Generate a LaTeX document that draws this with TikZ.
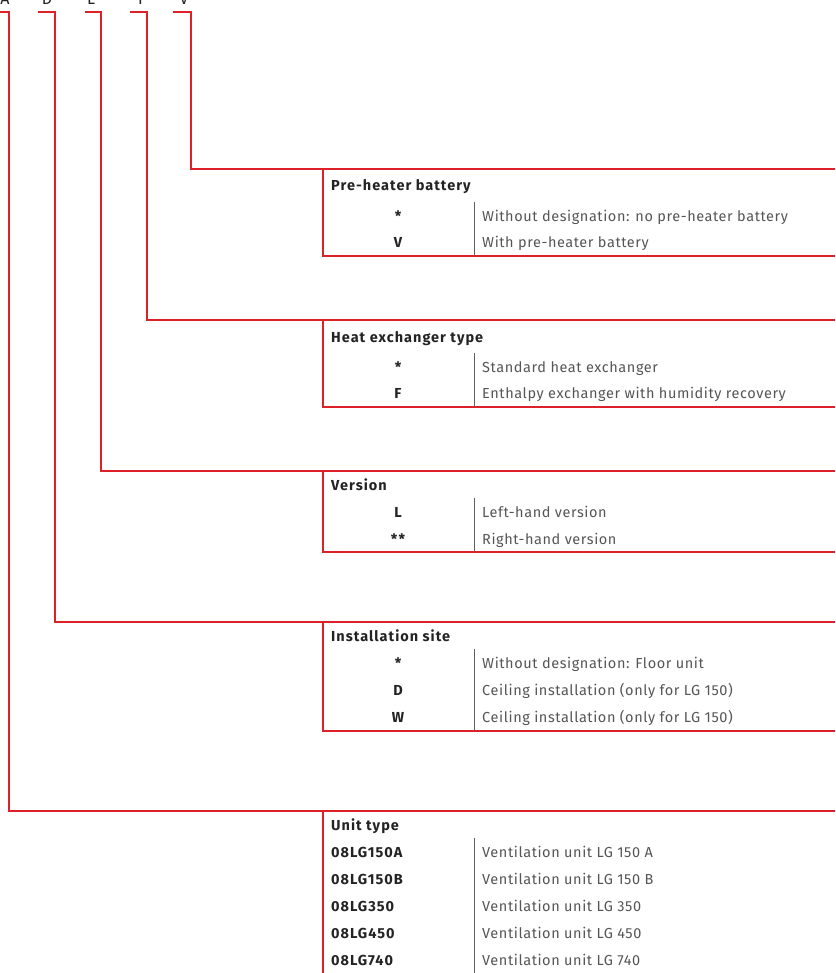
\documentclass[tikz,border=0pt]{standalone}
\usepackage{fontspec}
\setmainfont{Fira Sans}[LetterSpace=4,BoldFeatures={LetterSpace=7}]
\definecolor{lgred}{RGB}{222,32,40}
\definecolor{txtdark}{RGB}{35,35,35}
\definecolor{txtgray}{RGB}{85,85,85}
\definecolor{sepgray}{RGB}{95,95,95}
\begin{document}
\begin{tikzpicture}[x=1pt,y=-1pt,
  redline/.style={draw=lgred,line width=1.5pt},
  sepline/.style={draw=sepgray,line width=0.9pt},
  ttl/.style={anchor=base west,inner sep=0pt,font=\fontsize{14.5}{16}\selectfont\bfseries,text=txtdark},
  codec/.style={anchor=base,inner sep=0pt,font=\fontsize{14.5}{16}\selectfont\bfseries,text=txtdark},
  codel/.style={anchor=base west,inner sep=0pt,font=\fontsize{14.5}{16}\selectfont\bfseries,text=txtdark},
  desc/.style={anchor=base west,inner sep=0pt,font=\fontsize{14.5}{16}\selectfont,text=txtgray},
  letter/.style={anchor=base,inner sep=0pt,font=\fontsize{16}{18}\selectfont,text=txtdark}]
\path[use as bounding box] (0,0) rectangle (835,973);
\clip (0,0) rectangle (835,973);

% code letters (cut by the top edge)
\node[letter] (lA) at (5,4.5) {A};
\node[letter] (lD) at (47,4.5) {D};
\node[letter] (lL) at (91,4.5) {L};
\node[letter] (lF) at (142,4.5) {F};
\node[letter] (lV) at (184,4.5) {V};

% bracket coordinates
\coordinate (sA) at (0,12);   \coordinate (cA) at (9,12);
\coordinate (sD) at (38,12);  \coordinate (cD) at (55,12);
\coordinate (sL) at (85,12);  \coordinate (cL) at (101,12);
\coordinate (sF) at (130,12); \coordinate (cF) at (147,12);
\coordinate (sV) at (173,12); \coordinate (cV) at (191,12);

% box corners
\coordinate (P-tl) at (323,169); \coordinate (P-tr) at (835,169);
\coordinate (P-bl) at (323,256); \coordinate (P-br) at (835,256);
\coordinate (H-tl) at (323,320); \coordinate (H-tr) at (835,320);
\coordinate (H-bl) at (323,407); \coordinate (H-br) at (835,407);
\coordinate (R-tl) at (323,471); \coordinate (R-tr) at (835,471);
\coordinate (R-bl) at (323,552); \coordinate (R-br) at (835,552);
\coordinate (I-tl) at (323,622); \coordinate (I-tr) at (835,622);
\coordinate (I-bl) at (323,731); \coordinate (I-br) at (835,731);
\coordinate (U-tl) at (323,811); \coordinate (U-tr) at (835,811);
\coordinate (U-bl) at (323,973);

% separator coordinates
\coordinate (P-st) at (474,202); \coordinate (P-sb) at (474,256);
\coordinate (H-st) at (474,353); \coordinate (H-sb) at (474,407);
\coordinate (R-st) at (474,498); \coordinate (R-sb) at (474,552);
\coordinate (I-st) at (474,649); \coordinate (I-sb) at (474,731);
\coordinate (U-st) at (474,838); \coordinate (U-sb) at (474,973);

% connectors
\draw[redline] (sV) -- (cV) |- (P-tl) -- (P-tr);
\draw[redline] (sF) -- (cF) |- (H-tl) -- (H-tr);
\draw[redline] (sL) -- (cL) |- (R-tl) -- (R-tr);
\draw[redline] (sD) -- (cD) |- (I-tl) -- (I-tr);
\draw[redline] (sA) -- (cA) |- (U-tl) -- (U-tr);

% boxes
\draw[redline] (P-tl) -- (P-bl) -- (P-br);
\draw[redline] (H-tl) -- (H-bl) -- (H-br);
\draw[redline] (R-tl) -- (R-bl) -- (R-br);
\draw[redline] (I-tl) -- (I-bl) -- (I-br);
\draw[redline] (U-tl) -- (U-bl);

\draw[sepline] (P-st) -- (P-sb);
\draw[sepline] (H-st) -- (H-sb);
\draw[sepline] (R-st) -- (R-sb);
\draw[sepline] (I-st) -- (I-sb);
\draw[sepline] (U-st) -- (U-sb);

% Pre-heater battery
\node[ttl] (P-t) at (331,190.5) {Pre-heater battery};
\node[codec] (P-c1) at (398,222) {*};
\node[desc] (P-d1) at (482,222) {Without designation: no pre-heater battery};
\node[codec] (P-c2) at (398,248) {V};
\node[desc] (P-d2) at (482,248) {With pre-heater battery};

% Heat exchanger type
\node[ttl] (H-t) at (331,342.5) {Heat exchanger type};
\node[codec] (H-c1) at (398,372) {*};
\node[desc] (H-d1) at (482,372) {Standard heat exchanger};
\node[codec] (H-c2) at (398,398.5) {F};
\node[desc] (H-d2) at (482,398.5) {Enthalpy exchanger with humidity recovery};

% Version
\node[ttl] (R-t) at (331,490.5) {Version};
\node[codec] (R-c1) at (398,517.5) {L};
\node[desc] (R-d1) at (482,517.5) {Left-hand version};
\node[codec] (R-c2) at (398,544) {**};
\node[desc] (R-d2) at (482,544) {Right-hand version};

% Installation site
\node[ttl] (I-t) at (331,641.5) {Installation site};
\node[codec] (I-c1) at (398,668.5) {*};
\node[desc] (I-d1) at (482,668.5) {Without designation: Floor unit};
\node[codec] (I-c2) at (398,695.5) {D};
\node[desc] (I-d2) at (482,695.5) {Ceiling installation (only for LG 150)};
\node[codec] (I-c3) at (398,722.5) {W};
\node[desc] (I-d3) at (482,722.5) {Ceiling installation (only for LG 150)};

% Unit type
\node[ttl] (U-t) at (331,830.5) {Unit type};
\node[codel] (U-c1) at (331,857.5) {08LG150A};
\node[desc] (U-d1) at (482,857.5) {Ventilation unit LG 150 A};
\node[codel] (U-c2) at (331,884) {08LG150B};
\node[desc] (U-d2) at (482,884) {Ventilation unit LG 150 B};
\node[codel] (U-c3) at (331,911) {08LG350};
\node[desc] (U-d3) at (482,911) {Ventilation unit LG 350};
\node[codel] (U-c4) at (331,938) {08LG450};
\node[desc] (U-d4) at (482,938) {Ventilation unit LG 450};
\node[codel] (U-c5) at (331,965) {08LG740};
\node[desc] (U-d5) at (482,965) {Ventilation unit LG 740};
\end{tikzpicture}
\end{document}
